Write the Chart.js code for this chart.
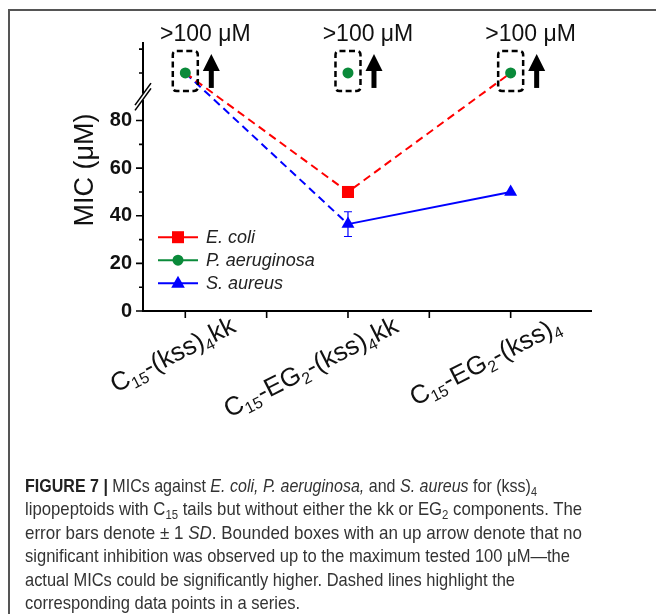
<!DOCTYPE html>
<html>
<head>
<meta charset="utf-8">
<script src="https://cdn.jsdelivr.net/npm/chart.js@4/dist/chart.umd.min.js"></script>
<style>
  html, body { margin:0; padding:0; background:#fff; width:656px; height:614px; overflow:hidden; }
  #wrap { position:relative; width:656px; height:614px; overflow:hidden; }
  #c { position:absolute; left:0; top:0; }
  #cap { position:absolute; left:25px; top:474px;
         font-family:"Liberation Sans",Arial,sans-serif;
         font-size:18.5px; line-height:23.4px; color:#333; white-space:nowrap; }
  #cap .ln { display:inline-block; transform-origin:0 50%; }
  #cap b { color:#222; }
  #cap sub { font-size:0.68em; vertical-align:-0.28em; line-height:0; }
</style>
</head>
<body>
<div id="wrap">
  <canvas id="c" width="656" height="614"></canvas>
  <div id="cap">
<span class="ln" data-w="512"><b>FIGURE 7 |</b> MICs against <i>E. coli, P. aeruginosa,</i> and <i>S. aureus</i> for (kss)<sub>4</sub></span><br>
<span class="ln" data-w="557">lipopeptoids with C<sub>15</sub> tails but without either the kk or EG<sub>2</sub> components. The</span><br>
<span class="ln" data-w="557">error bars denote ± 1 <i>SD</i>. Bounded boxes with an up arrow denote that no</span><br>
<span class="ln" data-w="545">significant inhibition was observed up to the maximum tested 100 μM—the</span><br>
<span class="ln" data-w="490">actual MICs could be significantly higher. Dashed lines highlight the</span><br>
<span class="ln">corresponding data points in a series.</span>
  </div>
</div>
<script>
// fit caption lines to the reference line lengths
(function(){
  const lines = document.querySelectorAll('#cap .ln');
  let ks = [];
  lines.forEach(l => {
    if (l.dataset.w) { const k = (+l.dataset.w) / l.getBoundingClientRect().width; ks.push(k); l.style.transform = 'scaleX(' + k + ')'; }
  });
  const avg = ks.reduce((s, v) => s + v, 0) / ks.length;
  lines.forEach(l => { if (!l.dataset.w) l.style.transform = 'scaleX(' + avg + ')'; });
})();

// ---------------- data ----------------
const categories   = ['C₁₅-(kss)₄kk', 'C₁₅-EG₂-(kss)₄kk', 'C₁₅-EG₂-(kss)₄'];
const catPos       = [1, 2, 3];
const ecoli        = [100, 50, 100];     // 100 = ">100 µM" (not inhibited)
const paeruginosa  = [100, 100, 100];
const saureus      = [100, 36.5, 50];
const saureusSD    = [null, 5.2, null];
const notInhibited = [true, true, true]; // bounded box + up arrow
const topLabels    = ['>100 μM', '>100 μM', '>100 μM'];
const yTickLabels  = [0, 20, 40, 60, 80];
const yMajorTicks  = [0, 20, 40, 60, 80];
const yMinorTicks  = [10, 30, 50, 70, 100, 110];
const xMajorTicks  = [1, 2, 3];
const xMinorTicks  = [1.5, 2.5];
const yBreakAt     = 90;
const TESTED_MAX   = 100;

const RED = '#ff0000', GREEN = '#0a8a3a', BLUE = '#0000ff';
const FONT = '"Liberation Sans", Arial, sans-serif';
const DASH = [8, 5];

function pts(vals) { return catPos.map((x, i) => ({ x: x, y: vals[i] })); }
// markers sitting at the ">100" level are hidden behind the P. aeruginosa circle
const radiusFor = big => c => (c.raw && c.raw.y >= TESTED_MAX) ? 5 : big;

const SUB = { '₀':'0','₁':'1','₂':'2','₃':'3','₄':'4','₅':'5','₆':'6','₇':'7','₈':'8','₉':'9' };
function splitRuns(s) {
  const runs = [];
  for (const ch of s) {
    const sub = SUB[ch] !== undefined;
    const c = sub ? SUB[ch] : ch;
    if (runs.length && runs[runs.length - 1].sub === sub) runs[runs.length - 1].t += c;
    else runs.push({ t: c, sub: sub });
  }
  return runs;
}

const decor = {
  id: 'decor',
  beforeDraw(chart) {
    const ctx = chart.ctx;
    ctx.save();
    ctx.fillStyle = '#fff'; ctx.fillRect(0, 0, chart.width, chart.height);
    ctx.strokeStyle = '#555'; ctx.lineWidth = 2;
    ctx.beginPath();
    ctx.moveTo(9, chart.height); ctx.lineTo(9, 10); ctx.lineTo(chart.width, 10);
    ctx.stroke();
    ctx.restore();
  },
  beforeDatasetsDraw(chart) {
    const ctx = chart.ctx, xs = chart.scales.x, ys = chart.scales.y;
    ctx.save();
    ctx.strokeStyle = BLUE; ctx.lineWidth = 1.2;
    saureusSD.forEach((sd, i) => {
      if (sd == null) return;
      const x = xs.getPixelForValue(catPos[i]);
      const y1 = ys.getPixelForValue(saureus[i] + sd), y2 = ys.getPixelForValue(saureus[i] - sd);
      ctx.beginPath();
      ctx.moveTo(x, y1); ctx.lineTo(x, y2);
      ctx.moveTo(x - 4, y1); ctx.lineTo(x + 4, y1);
      ctx.moveTo(x - 4, y2); ctx.lineTo(x + 4, y2);
      ctx.stroke();
    });
    ctx.restore();
  },
  afterDatasetsDraw(chart) {
    const ctx = chart.ctx, xs = chart.scales.x, ys = chart.scales.y, a = chart.chartArea;
    ctx.save();
    // ---- axes ----
    ctx.strokeStyle = '#000'; ctx.lineWidth = 2; ctx.setLineDash([]);
    const ax = a.left, by = a.bottom;
    const bp = ys.getPixelForValue(yBreakAt);
    ctx.beginPath();
    ctx.moveTo(a.right, by); ctx.lineTo(ax - 1, by);
    ctx.moveTo(ax, by); ctx.lineTo(ax, bp + 3);
    ctx.moveTo(ax, bp - 3); ctx.lineTo(ax, a.top);
    ctx.stroke();
    ctx.lineWidth = 1.6;
    [-2.6, 2.6].forEach(o => {
      ctx.beginPath();
      ctx.moveTo(ax - 8, bp + o + 11); ctx.lineTo(ax + 8, bp + o - 11);
      ctx.stroke();
    });
    ctx.beginPath();
    yMajorTicks.forEach(v => { const y = ys.getPixelForValue(v); ctx.moveTo(ax, y); ctx.lineTo(ax - 7, y); });
    yMinorTicks.forEach(v => { const y = ys.getPixelForValue(v); ctx.moveTo(ax, y); ctx.lineTo(ax - 4, y); });
    xMajorTicks.concat(xMinorTicks).forEach(v => { const x = xs.getPixelForValue(v); ctx.moveTo(x, by); ctx.lineTo(x, by + 7); });
    ctx.stroke();

    // ---- y title ----
    ctx.save();
    ctx.translate(86, 170);
    ctx.rotate(-Math.PI / 2);
    ctx.font = '27px ' + FONT;
    ctx.fillStyle = '#111'; ctx.textAlign = 'center'; ctx.textBaseline = 'middle';
    ctx.fillText('MIC (μM)', 0, 0);
    ctx.restore();

    // ---- x category labels (rotated, with subscripts) ----
    const fs = 26, sfs = 16;
    ctx.fillStyle = '#111';
    categories.forEach((lab, i) => {
      const x = xs.getPixelForValue(catPos[i]);
      const runs = splitRuns(lab);
      let w = 0;
      runs.forEach(r => { ctx.font = (r.sub ? sfs : fs) + 'px ' + FONT; r.w = ctx.measureText(r.t).width; w += r.w; });
      ctx.save();
      ctx.translate(x + 52, by + 20);
      ctx.rotate(-27 * Math.PI / 180);
      ctx.textBaseline = 'alphabetic'; ctx.textAlign = 'left';
      let cx = -w;
      runs.forEach(r => {
        ctx.font = (r.sub ? sfs : fs) + 'px ' + FONT;
        ctx.fillText(r.t, cx, r.sub ? 5 : 0);
        cx += r.w;
      });
      ctx.restore();
    });

    // ---- ">100 µM" boxes, arrows, labels ----
    notInhibited.forEach((flag, i) => {
      if (!flag) return;
      const x = xs.getPixelForValue(catPos[i]);
      const yc = ys.getPixelForValue(paeruginosa[i]);
      const bw = 25, bh = 40, bx = x - bw / 2, byy = yc - 2 - bh / 2, r = 4;
      ctx.strokeStyle = '#000'; ctx.lineWidth = 2.5; ctx.setLineDash([6, 3.5]);
      ctx.beginPath();
      ctx.moveTo(bx + r, byy);
      ctx.lineTo(bx + bw - r, byy); ctx.quadraticCurveTo(bx + bw, byy, bx + bw, byy + r);
      ctx.lineTo(bx + bw, byy + bh - r); ctx.quadraticCurveTo(bx + bw, byy + bh, bx + bw - r, byy + bh);
      ctx.lineTo(bx + r, byy + bh); ctx.quadraticCurveTo(bx, byy + bh, bx, byy + bh - r);
      ctx.lineTo(bx, byy + r); ctx.quadraticCurveTo(bx, byy, bx + r, byy);
      ctx.closePath();
      ctx.stroke();
      ctx.setLineDash([]);
      const arx = x + 26;
      ctx.fillStyle = '#000';
      ctx.fillRect(arx - 2.5, yc - 6, 5, 21);
      ctx.beginPath();
      ctx.moveTo(arx - 8.5, yc - 2); ctx.lineTo(arx + 8.5, yc - 2); ctx.lineTo(arx, yc - 19);
      ctx.closePath(); ctx.fill();
      ctx.font = '23px ' + FONT; ctx.fillStyle = '#111';
      ctx.textAlign = 'center'; ctx.textBaseline = 'alphabetic';
      ctx.fillText(topLabels[i], x + 20, 41);
    });

    // ---- legend (inside plot) ----
    const lx = a.left + 15, ly0 = ys.getPixelForValue(31), dy = 23;
    chart.data.datasets.forEach((ds, i) => {
      const y = ly0 + i * dy;
      ctx.strokeStyle = ds.borderColor; ctx.lineWidth = 2; ctx.setLineDash([]);
      ctx.beginPath(); ctx.moveTo(lx, y); ctx.lineTo(lx + 40, y); ctx.stroke();
      ctx.fillStyle = ds.backgroundColor;
      const mx = lx + 20;
      ctx.beginPath();
      if (ds.pointStyle === 'rect') ctx.rect(mx - 6, y - 6, 12, 12);
      else if (ds.pointStyle === 'circle') ctx.arc(mx, y, 5.5, 0, Math.PI * 2);
      else { ctx.moveTo(mx, y - 7.5); ctx.lineTo(mx + 6.8, y + 4.5); ctx.lineTo(mx - 6.8, y + 4.5); ctx.closePath(); }
      ctx.fill();
      ctx.font = 'italic 18px ' + FONT; ctx.fillStyle = '#222';
      ctx.textAlign = 'left'; ctx.textBaseline = 'middle';
      ctx.fillText(ds.label, lx + 48, y + 1);
    });
    ctx.restore();
  }
};

new Chart(document.getElementById('c'), {
  type: 'line',
  data: {
    datasets: [
      { label: 'E. coli', data: pts(ecoli), borderColor: RED, backgroundColor: RED,
        borderWidth: 2, pointStyle: 'rect', pointRadius: radiusFor(8.5), pointBorderWidth: 0,
        segment: { borderDash: () => DASH }, order: 1 },
      { label: 'P. aeruginosa', data: pts(paeruginosa), borderColor: GREEN, backgroundColor: GREEN,
        showLine: false, pointStyle: 'circle', pointRadius: 5.5, pointBorderWidth: 0, order: 0 },
      { label: 'S. aureus', data: pts(saureus), borderColor: BLUE, backgroundColor: BLUE,
        borderWidth: 2, pointStyle: 'triangle', pointRadius: radiusFor(7.5), pointBorderWidth: 0,
        segment: { borderDash: c => c.p0DataIndex === 0 ? DASH : [] }, order: 2 }
    ]
  },
  options: {
    responsive: false, animation: false,
    layout: { padding: { top: 42, right: 64, left: 0, bottom: 0 } },
    plugins: { legend: { display: false }, tooltip: { enabled: false } },
    scales: {
      x: { type: 'linear', min: 0.74, max: 3.5,
           ticks: { display: false }, grid: { display: false }, border: { display: false },
           afterFit: s => { s.height = 614 - 311; } },
      y: { type: 'linear', min: 0, max: 113,
           ticks: { stepSize: 10, autoSkip: false, padding: 4, color: '#111',
                    font: { family: FONT, size: 20, weight: 'bold' },
                    callback: v => yTickLabels.includes(v) ? String(v) : '' },
           grid: { display: false, drawTicks: true, tickLength: 7 }, border: { display: false },
           afterFit: s => { s.width = 143; } }
    }
  },
  plugins: [decor]
});
</script>
</body>
</html>
